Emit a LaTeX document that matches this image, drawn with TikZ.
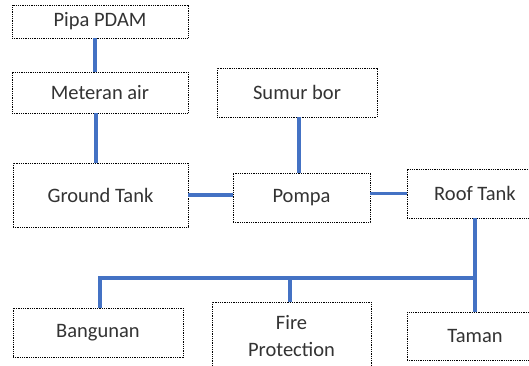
\documentclass[tikz,border=0pt]{standalone}
\usepackage{fontspec}
\setmainfont{Carlito}
\usetikzlibrary{positioning,calc}
\definecolor{pipeblue}{RGB}{68,114,196}
\tikzset{
  unit/.style={draw=black, line width=0.7pt, dash pattern=on 1pt off 0.8pt,
    fill=white, inner sep=0pt, align=center, text=black!80,
    font=\fontsize{20.5}{27}\selectfont},
  pipe/.style={draw=pipeblue, line width=3.6pt}
}
\begin{document}
\begin{tikzpicture}[x=1pt,y=-1pt]
\useasboundingbox (0,0) rectangle (529,366);
\clip (0,0) rectangle (529,366);
\node[unit, minimum width=176pt, minimum height=33pt] (pdam) at (100,21.5) {Pipa PDAM};
\node[unit, minimum width=176pt, minimum height=41pt] (meter) at (100,92.5) {Meteran air};
\node[unit, minimum width=175pt, minimum height=64pt] (ground) at (100.5,195) {Ground Tank};
\node[unit, minimum width=160pt, minimum height=49pt] (sumur) at (297,92.5) {Sumur bor};
\node[unit, minimum width=137pt, minimum height=49pt] (pompa) at (301.5,197.5) {Pompa};
\node[unit, minimum width=136pt, minimum height=49pt] (roof) at (475,193.5) {Roof Tank};
\node[unit, minimum width=170pt, minimum height=49pt] (bangunan) at (98,332.5) {Bangunan};
\node[unit, minimum width=159pt, minimum height=69pt] (fire) at (291.5,336.5) {Fire\\Protection};
\node[unit, minimum width=136pt, minimum height=48pt] (taman) at (475,336) {Taman};
\coordinate (bus) at (475,278);
\draw[pipe] ([xshift=-5pt]pdam.south) -- ([xshift=-5pt]meter.north);
\draw[pipe] ([xshift=-4pt]meter.south) -- ([xshift=-4.5pt]ground.north);
\draw[pipe] (ground.east) -- (ground.east -| pompa.west);
\draw[pipe] ([xshift=2pt]sumur.south) -- ([xshift=2pt]sumur.south |- pompa.north);
\draw[pipe] (roof.west -| pompa.east) -- (roof.west);
\draw[pipe] (roof.south) -- (taman.north);
\draw[pipe] ([xshift=2pt]bangunan.north) |- (bus);
\draw[pipe] ([xshift=-1.5pt]fire.north) -- ([xshift=-1.5pt]fire.north |- bus);
\end{tikzpicture}
\end{document}
